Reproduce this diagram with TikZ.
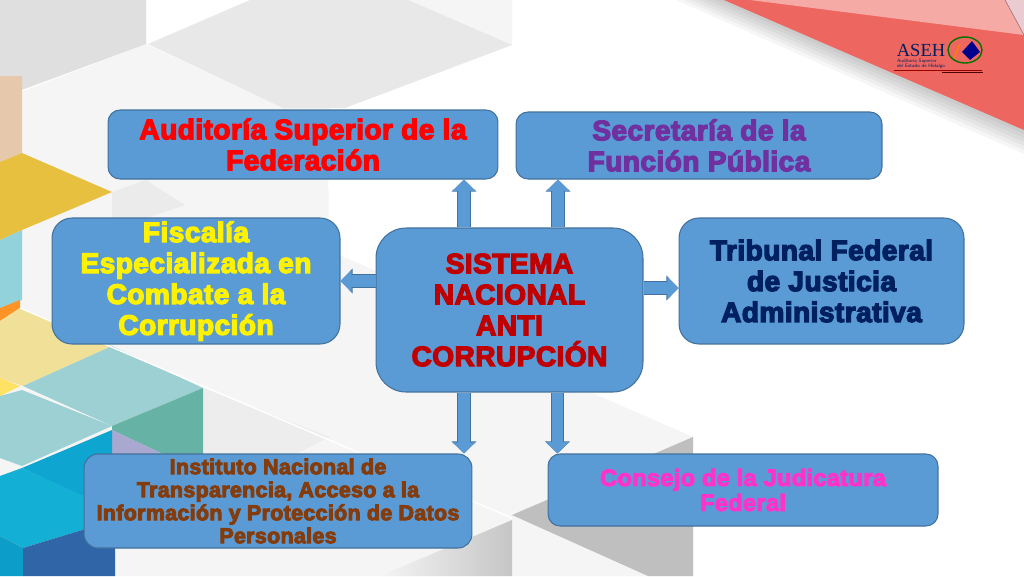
\documentclass[tikz,border=0pt]{standalone}
\usepackage{fontspec}
\usepackage{xcolor}
\usetikzlibrary{arrows.meta}
\newfontfamily\heavyfont[FakeBold=4.5,LetterSpace=1.5]{Liberation Sans Bold}
\newfontfamily\logofont{Liberation Serif}
\definecolor{boxblue}{HTML}{5B9BD5}
\definecolor{boxedge}{HTML}{41719C}
\definecolor{navytext}{HTML}{002060}
\definecolor{purpletext}{HTML}{7030A0}
\definecolor{browntext}{HTML}{843C0C}
\definecolor{pinktext}{HTML}{FF33CC}
\definecolor{darkred}{HTML}{C00000}
\definecolor{peach}{HTML}{E6C9AC}
\definecolor{gold}{HTML}{E8C040}
\definecolor{paleyellow}{HTML}{F0E098}
\definecolor{skyteal}{HTML}{92D2DA}
\definecolor{paleteal}{HTML}{9DD0D3}
\definecolor{seagreen}{HTML}{66B2A4}
\definecolor{lavender}{HTML}{A8A8D0}
\definecolor{deepcyan}{HTML}{0EA5D0}
\definecolor{midcyan}{HTML}{14AFD4}
\definecolor{lowcyan}{HTML}{0C9DC8}
\definecolor{lowblue}{HTML}{3066A8}
\definecolor{stepred}{HTML}{EE6660}
\definecolor{steppink}{HTML}{F5AAA5}
\definecolor{stepmauve}{HTML}{EBCBD2}
\tikzset{
    organ/.style={draw=boxedge,fill=boxblue,line width=0.6pt,align=center,inner sep=0pt},
    bigtext/.style={font=\heavyfont\fontsize{16}{17.6}\selectfont},
    bigarrow/.style={draw=boxblue,line width=6.6pt,-{Triangle[length=6.4pt,width=12.4pt]},
        preaction={draw=boxedge,line width=7.5pt,-{Triangle[length=6.9pt,width=13.8pt]}}},
}
\begin{document}
\begin{tikzpicture}[x=0.02cm,y=-0.02cm]
    \useasboundingbox (0,0) rectangle (1024,576);
    \fill[white] (0,0) rectangle (1024,576);
    \fill[gray!8] (0,100) -- (146,44) -- (283,108) -- (345,108) -- (330,130) -- (328,190) -- (512,270) -- (512,380) -- (590,395) -- (693,437) -- (693,576) -- (0,576) -- cycle;
    \fill[gray!8] (330,130) -- (512,60) -- (512,0) -- (408,0) -- cycle;
    \fill[white] (330,108) -- (512,45) -- (600,0) -- (1024,0) -- (1024,576) -- (693,576) -- (693,437) -- (590,392) -- (512,330) -- (328,250) -- cycle;
    \fill[gray!8] (590,392) -- (693,437) -- (693,576) -- (560,576) -- (420,400) -- cycle;
    \fill[gray!25] (0,0) -- (146,0) -- (146,44) -- (0,98) -- cycle;
    \fill[gray!18] (148,44) -- (250,0) -- (408,0) -- (512,45) -- (345,108) -- (283,108) -- cycle;
    \fill[gray!16] (112,192) -- (146,180) -- (185,205) -- (112,230) -- cycle;
    \fill[gray!14] (203,388) -- (330,437) -- (203,500) -- cycle;
    \shade[left color=gray!8,right color=gray!45] (380,576) -- (512,520) -- (512,576) -- cycle;
    \fill[gray!50] (512,515) -- (693,437) -- (693,576) -- (648,576) -- cycle;
    \fill[peach] (0,76) -- (22,76) -- (22,153) -- (0,162) -- cycle;
    \fill[gold] (0,162) -- (22,153) -- (112,192) -- (22,230) -- (0,240) -- cycle;
    \fill[skyteal] (0,240) -- (22,230) -- (22,300) -- (0,308) -- cycle;
    \fill[orange!85] (0,308) -- (20,300) -- (20,308) -- (0,321) -- cycle;
    \fill[paleyellow] (0,321) -- (20,308) -- (112,346) -- (23,386) -- (0,378) -- cycle;
    \fill[yellow!70!orange!60] (0,378) -- (20,386) -- (0,396) -- cycle;
    \fill[paleteal] (23,386) -- (112,346) -- (203,388) -- (112,426) -- cycle;
    \fill[paleteal] (0,396) -- (22,390) -- (112,426) -- (22,466) -- (0,458) -- cycle;
    \fill[seagreen] (112,426) -- (203,388) -- (203,456) -- (167,456) -- (112,430) -- cycle;
    \fill[lavender] (112,430) -- (167,456) -- (112,456) -- cycle;
    \fill[deepcyan] (112,430) -- (22,468) -- (112,510) -- cycle;
    \fill[midcyan] (0,476) -- (22,468) -- (115,510) -- (115,520) -- (23,548) -- (0,536) -- cycle;
    \fill[lowcyan] (0,536) -- (23,548) -- (23,576) -- (0,576) -- cycle;
    \fill[lowblue] (23,548) -- (115,520) -- (115,576) -- (23,576) -- cycle;
    \draw[white,line width=0.8pt] (20,308) -- (512,518);
    \foreach \d in {24,20,16,12,8,4} {
        \fill[black,opacity=0.035] (724-2*\d,0) -- (1024,130+\d) -- (1024,0) -- cycle;
    }
    \fill[stepred] (724,0) -- (1024,130) -- (1024,0) -- cycle;
    \fill[steppink] (750,0) -- (1024,35) -- (1005,0) -- cycle;
    \fill[stepmauve] (1005,0) -- (1024,35) -- (1024,0) -- cycle;
    \draw[gray!80!red,line width=0.3pt] (1005,0) -- (1024,35);
    \node[text=navytext,inner sep=0pt,font=\logofont\fontsize{10.5}{10.5}\selectfont] (asehlogo) at (921,50) {ASEH};
    \draw[green!45!black,line width=0.8pt] (965,50) ellipse (17 and 13);
    \fill[blue!55!black] (962,52) -- (972,41) -- (980,52) -- (970,60) -- cycle;
    \draw[orange,line width=0.8pt] (954,58) -- (960,44);
    \node[text=navytext,align=left,inner sep=0pt,font=\sffamily\fontsize{2.8}{3}\selectfont] (asehname) at (921,64) {Auditoría Superior\\del Estado de Hidalgo};
    \draw[red!60!black,line width=0.3pt] (894,70) -- (982,70);
    \draw[black!70!red,line width=0.8pt] (942,72.5) -- (983,72.5);

    \node[organ,bigtext,minimum width=7.8cm,minimum height=1.38cm,rounded corners=0.24cm,text=red] (auditoria) at (303,144.5) {Auditoría Superior de la\\Federación};
    \node[organ,bigtext,minimum width=7.32cm,minimum height=1.34cm,rounded corners=0.24cm,text=purpletext] (secretaria) at (699,145.5) {Secretaría de la\\Función Pública};
    \node[organ,bigtext,minimum width=5.76cm,minimum height=2.52cm,rounded corners=0.4cm,text=yellow] (fiscalia) at (196,281) {Fiscalía\\Especializada en\\Combate a la\\Corrupción};
    \node[organ,bigtext,minimum width=5.7cm,minimum height=2.52cm,rounded corners=0.4cm,text=navytext] (tribunal) at (821.5,281) {Tribunal Federal\\de Justicia\\Administrativa};
    \node[organ,bigtext,minimum width=5.34cm,minimum height=3.28cm,rounded corners=0.6cm,text=darkred] (sistema) at (509.5,310) {SISTEMA\\NACIONAL\\ANTI\\CORRUPCIÓN};
    \node[organ,minimum width=7.76cm,minimum height=1.88cm,rounded corners=0.28cm,text=browntext,font=\heavyfont\fontsize{12.2}{13.1}\selectfont] (instituto) at (278,501) {Instituto Nacional de\\Transparencia, Acceso a la\\Información y Protección de Datos\\Personales};
    \node[organ,minimum width=7.8cm,minimum height=1.44cm,rounded corners=0.24cm,text=pinktext,font=\heavyfont\fontsize{13.4}{14.2}\selectfont] (consejo) at (743,490) {Consejo de la Judicatura\\Federal};

    \draw[bigarrow] ([xshift=-25.9pt]sistema.north) -- ([xshift=-25.9pt]sistema.north |- auditoria.south);
    \draw[bigarrow] ([xshift=27.6pt]sistema.north) -- ([xshift=27.6pt]sistema.north |- secretaria.south);
    \draw[bigarrow] (sistema.west |- fiscalia.east) -- (fiscalia.east);
    \draw[bigarrow] ([yshift=-4pt]sistema.east |- tribunal.west) -- ([yshift=-4pt]tribunal.west);
    \draw[bigarrow] ([xshift=-25.9pt]sistema.south) -- ([xshift=-25.9pt]sistema.south |- instituto.north);
    \draw[bigarrow] ([xshift=27.3pt]sistema.south) -- ([xshift=27.3pt]sistema.south |- consejo.north);
\end{tikzpicture}
\end{document}
